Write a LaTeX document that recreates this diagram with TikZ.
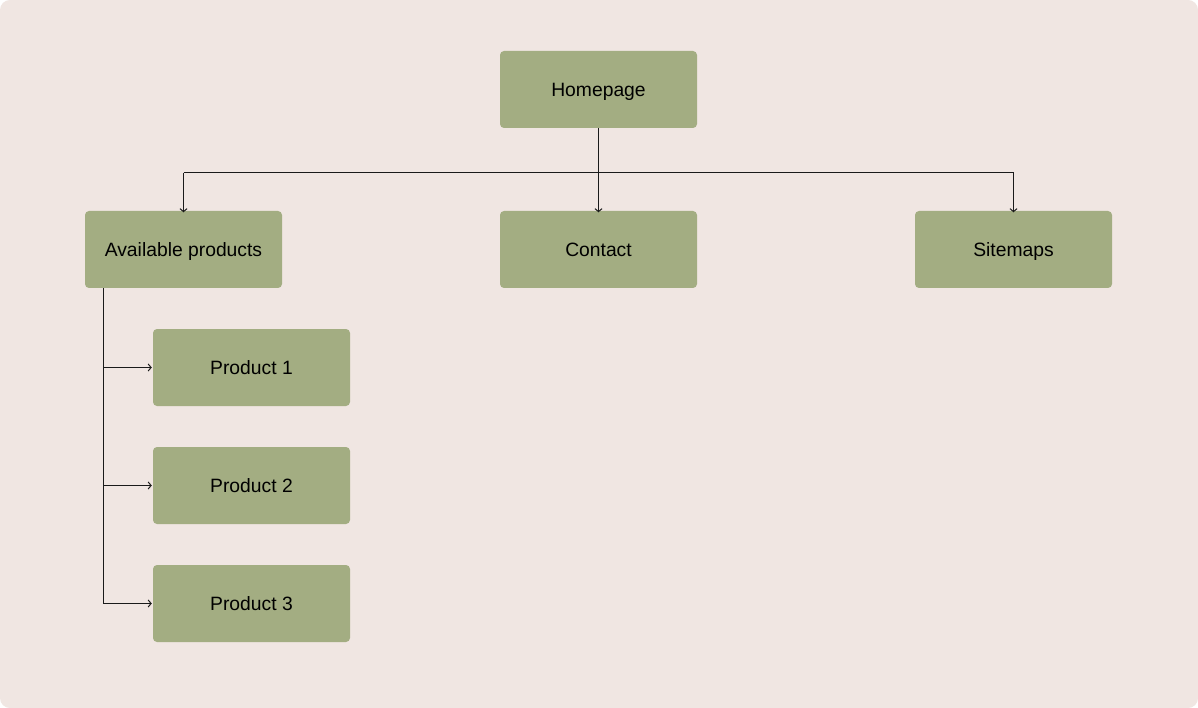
\documentclass[tikz,border=0pt]{standalone}
\usepackage{fontspec}
\setmainfont{Liberation Sans}
\usetikzlibrary{arrows.meta}
\definecolor{bgc}{HTML}{F0E6E2}
\definecolor{boxc}{HTML}{A3AD82}
\definecolor{linec}{HTML}{1A1A1A}
\begin{document}
\begin{tikzpicture}[x=1pt,y=-1pt,
  pagebox/.style={fill=boxc, rounded corners=4pt, minimum width=197pt, minimum height=77pt, inner sep=0pt, text height=13.8pt, text depth=0pt, font=\fontsize{19.3}{22}\selectfont, text=black},
  conn/.style={draw=linec, line width=1pt},
  arr/.style={conn, -{Straight Barb[length=3pt,width=7pt]}}]
\useasboundingbox (0,0) rectangle (1198,708);
\fill[white] (0,0) rectangle (1198,708);
\fill[bgc, rounded corners=10pt] (0,0) rectangle (1198,708);
\node[pagebox] (home) at (598.5,89.5) {Homepage};
\node[pagebox] (avail) at (183.5,249.5) {Available products};
\node[pagebox] (contact) at (598.5,249.5) {Contact};
\node[pagebox] (site) at (1013.5,249.5) {Sitemaps};
\node[pagebox] (p1) at (251.5,367.5) {Product 1};
\node[pagebox] (p2) at (251.5,485.5) {Product 2};
\node[pagebox] (p3) at (251.5,603.5) {Product 3};
\coordinate (hl) at (183.5,173);
\coordinate (hr) at (1013.5,173);
\draw[conn] (hl) -- (hr);
\draw[arr] (home.south) -- ([yshift=-1.5pt]contact.north);
\draw[arr] (hl) -- ([yshift=-1.5pt]avail.north);
\draw[arr] (hr) -- ([yshift=-1.5pt]site.north);
\coordinate (vtop) at ([xshift=-80pt]avail.south);
\coordinate (v3) at (vtop |- p3.west);
\draw[conn] (vtop) -- (v3);
\draw[arr] (vtop |- p1.west) -- ([xshift=-1pt]p1.west);
\draw[arr] (vtop |- p2.west) -- ([xshift=-1pt]p2.west);
\draw[arr] (v3) -- ([xshift=-1pt]p3.west);
\end{tikzpicture}
\end{document}
